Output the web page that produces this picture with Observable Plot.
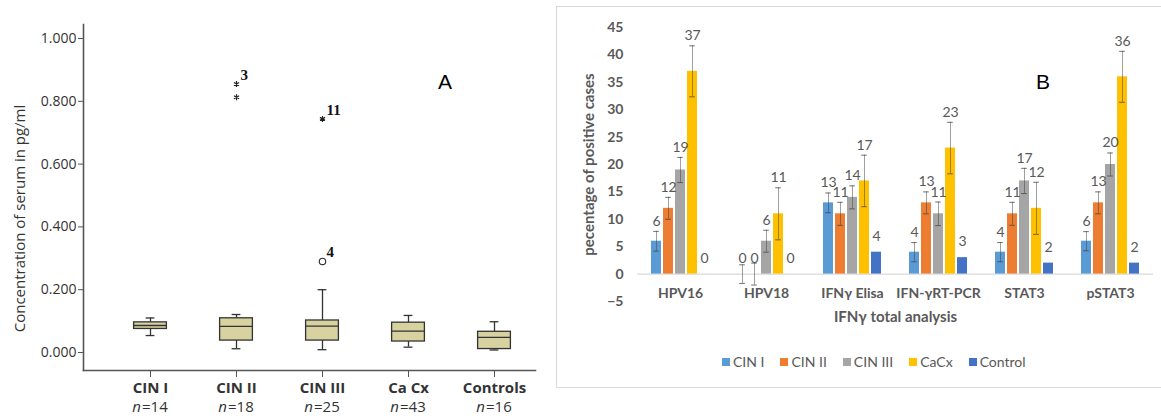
<!DOCTYPE html>
<html><head><meta charset="utf-8">
<script src="https://cdn.jsdelivr.net/npm/d3@7"></script>
<script src="https://cdn.jsdelivr.net/npm/@observablehq/plot@0.6"></script>
<style>
html,body{margin:0;padding:0;background:#fff;}
#page{position:relative;width:1161px;height:416px;overflow:hidden;background:#fff;}
#panelA{position:absolute;left:0;top:0;}
#letterA{position:absolute;left:438px;top:71px;font:21px/21px "Liberation Sans",Arial,sans-serif;color:#000;}
#panelB{position:absolute;left:556px;top:6px;width:640px;height:380px;border:1px solid #d9d9d9;}
#plotB{position:absolute;left:0;top:0;}
#letterB{position:absolute;left:479px;top:64px;font:21px/21px "Liberation Sans",Arial,sans-serif;color:#000;}
#legendB{position:absolute;left:165px;top:347px;display:flex;gap:16px;font:14px/16px Lato,sans-serif;color:#595959;}
#legendB .item{display:flex;align-items:center;}
#legendB .sw{width:8px;height:8px;margin-right:3px;display:inline-block;}
#plotB g[aria-label="y-axis tick label"] text,
#plotB g[aria-label="fx-axis tick label"] text{font-weight:bold;font-size:14px;}
#plotB g[aria-label="y-axis label"] text,
#plotB g[aria-label="fx-axis label"] text{font-weight:bold;font-size:15px;}
#panelA g[aria-label="x-axis tick label"] text{font-weight:bold;font-size:15px;}
</style>
</head><body>
<div id="page">
  <div id="panelA"></div>
  <div id="letterA">A</div>
  <div id="panelB">
    <div id="plotB"></div>
    <div id="letterB">B</div>
    <div id="legendB"></div>
  </div>
</div>
<script>
// ---------- Panel A data (box plot summaries, pg/ml) ----------
const groupsA = ["CIN I", "CIN II", "CIN III", "Ca Cx", "Controls"];
const nA = [14, 18, 25, 43, 16];
const whiskerLowA = [0.054, 0.012, 0.009, 0.017, 0.008];
const q1A = [0.075, 0.038, 0.038, 0.035, 0.011];
const medianA = [0.086, 0.083, 0.084, 0.068, 0.048];
const q3A = [0.096, 0.109, 0.102, 0.095, 0.066];
const whiskerHighA = [0.110, 0.121, 0.200, 0.118, 0.098];
const outlierGroupA = ["CIN II", "CIN II", "CIN III", "CIN III"];
const outlierValueA = [0.855, 0.813, 0.744, 0.290];
const outlierKindA = ["extreme", "extreme", "extreme", "outlier"];
const outlierCaseA = ["3", "", "11", "4"];
const yTicksA = [0, 0.2, 0.4, 0.6, 0.8, 1.0];

// ---------- Panel B data (percentage of positive cases) ----------
const categoriesB = ["HPV16", "HPV18", "IFNγ Elisa", "IFN-γRT-PCR", "STAT3", "pSTAT3"];
const seriesB = ["CIN I", "CIN II", "CIN III", "CaCx", "Control"];
const valuesCIN1 = [6, 0, 13, 4, 4, 6];
const valuesCIN2 = [12, 0, 11, 13, 11, 13];
const valuesCIN3 = [19, 6, 14, 11, 17, 20];
const valuesCaCx = [37, 11, 17, 23, 12, 36];
const valuesControl = [0, 0, 4, 3, 2, 2];
const errCIN1 = [1.8, 1.7, 1.8, 1.75, 1.75, 1.75];
const errCIN2 = [2.0, 2.0, 2.1, 2.0, 2.1, 2.0];
const errCIN3 = [2.3, 2.0, 2.1, 2.15, 2.3, 2.1];
const errCaCx = [4.65, 4.75, 4.7, 4.7, 4.75, 4.65];
const errControl = [0, 0, 0, 0, 0, 0];
const yTicksB = [-5, 0, 5, 10, 15, 20, 25, 30, 35, 40, 45];
const colorsB = ["#5B9BD5", "#ED7D31", "#A5A5A5", "#FFC000", "#4472C4"];

// ---------- Panel A ----------
const boxRows = groupsA.map((g, i) => ({group: g, n: nA[i], lo: whiskerLowA[i], q1: q1A[i], med: medianA[i], q3: q3A[i], hi: whiskerHighA[i]}));
const outRows = outlierGroupA.map((g, i) => ({group: g, value: outlierValueA[i], kind: outlierKindA[i], caseId: outlierCaseA[i]}));
const ink = "#333";
const boxInset = 26.6, capInset = 38.6;

const plotA = Plot.plot({
  width: 545, height: 416,
  marginLeft: 83, marginRight: 10, marginTop: 24, marginBottom: 46,
  style: {fontFamily: "'Open Sans', sans-serif", fontSize: "14px", color: ink, background: "transparent"},
  x: {domain: groupsA, range: [106, 537], padding: 0, axis: null},
  y: {domain: [-0.0573, 1.0446], axis: null},
  marks: [
    Plot.frame({anchor: "left", stroke: "#555", strokeWidth: 1.6}),
    Plot.frame({anchor: "bottom", stroke: "#555", strokeWidth: 1.6}),
    Plot.axisY({ticks: yTicksA, tickFormat: d => d.toFixed(3), tickSize: 5, tickPadding: 2, label: null, stroke: "#555"}),
    Plot.axisX({tickSize: 7, tickPadding: 5, label: null, stroke: "#555"}),
    Plot.ruleX(boxRows, {x: "group", y1: "lo", y2: "q1", stroke: ink, strokeWidth: 1.3}),
    Plot.ruleX(boxRows, {x: "group", y1: "q3", y2: "hi", stroke: ink, strokeWidth: 1.3}),
    Plot.tickY(boxRows, {x: "group", y: "lo", insetLeft: capInset, insetRight: capInset, stroke: ink, strokeWidth: 1.3}),
    Plot.tickY(boxRows, {x: "group", y: "hi", insetLeft: capInset, insetRight: capInset, stroke: ink, strokeWidth: 1.3}),
    Plot.barY(boxRows, {x: "group", y1: "q1", y2: "q3", fill: "#d7d2a0", stroke: ink, strokeWidth: 1.3, insetLeft: boxInset, insetRight: boxInset}),
    Plot.tickY(boxRows, {x: "group", y: "med", insetLeft: boxInset, insetRight: boxInset, stroke: ink, strokeWidth: 1.3}),
    Plot.dot(outRows.filter(d => d.kind === "extreme"), {x: "group", y: "value", symbol: "asterisk", r: 2.8, stroke: "#222", strokeWidth: 1.2}),
    Plot.dot(outRows.filter(d => d.kind === "outlier"), {x: "group", y: "value", r: 3.2, stroke: ink, fill: "white", strokeWidth: 1.2}),
    Plot.text(outRows.filter(d => d.caseId), {x: "group", y: "value", text: "caseId", textAnchor: "start", dx: 4, dy: -9,
      fontFamily: "'Liberation Serif', serif", fontWeight: "bold", fontSize: 15, fill: "#111"}),
    Plot.text(boxRows, {x: "group", frameAnchor: "bottom", text: () => "n", dx: -9.5, dy: 41, textAnchor: "end", fontStyle: "italic", fontSize: 15}),
    Plot.text(boxRows, {x: "group", frameAnchor: "bottom", text: d => "=" + d.n, dx: -8.5, dy: 41, textAnchor: "start", fontSize: 15}),
    Plot.text(["Concentration of serum in pg/ml"], {frameAnchor: "left", textAnchor: "middle", rotate: -90, dx: -63, dy: 21, fontSize: 15})
  ]
});
document.getElementById("panelA").appendChild(plotA);

// ---------- Panel B ----------
const valuesB = [valuesCIN1, valuesCIN2, valuesCIN3, valuesCaCx, valuesControl];
const errorsB = [errCIN1, errCIN2, errCIN3, errCaCx, errControl];
const rowsB = [];
seriesB.forEach((s, si) => categoriesB.forEach((c, ci) =>
  rowsB.push({category: c, series: s, value: valuesB[si][ci], err: errorsB[si][ci]})));
const withErr = rowsB.filter(d => d.err > 0);
const labelHigh = rowsB.filter(d => d.err > 0 && d.value > 0);
const labelLow = rowsB.filter(d => !(d.err > 0 && d.value > 0));
const grey = "#595959";

const plotB = Plot.plot({
  width: 640, height: 335,
  marginLeft: 77, marginRight: 42, marginTop: 20, marginBottom: 41,
  style: {fontFamily: "Lato, sans-serif", fontSize: "14px", color: grey, background: "transparent", overflow: "visible"},
  fx: {domain: categoriesB, padding: 0},
  x: {domain: seriesB, paddingInner: 0.2, paddingOuter: 0.94, axis: null},
  y: {domain: [-5, 45]},
  color: {domain: seriesB, range: colorsB},
  marks: [
    Plot.ruleY([0], {stroke: "#d9d9d9", strokeWidth: 1.3}),
    Plot.barY(rowsB, {fx: "category", x: "series", y: "value", fill: "series"}),
    Plot.ruleX(withErr, {fx: "category", x: "series", y1: d => d.value - d.err, y2: d => d.value + d.err, stroke: "#404040", strokeOpacity: 0.5}),
    Plot.tickY(withErr, {fx: "category", x: "series", y: d => d.value + d.err, insetLeft: 2.2, insetRight: 2.2, stroke: "#404040", strokeOpacity: 0.75}),
    Plot.tickY(withErr, {fx: "category", x: "series", y: d => d.value - d.err, insetLeft: 2.2, insetRight: 2.2, stroke: "#404040", strokeOpacity: 0.75}),
    Plot.text(labelHigh, {fx: "category", x: "series", y: d => d.value + d.err, text: d => String(d.value), dy: -10, fontSize: 14, fill: grey}),
    Plot.text(labelLow, {fx: "category", x: "series", y: "value", text: d => String(d.value), dy: -16, fontSize: 14, fill: grey}),
    Plot.axisY({ticks: yTicksB, tickSize: 0, tickPadding: 14, label: "pecentage of positive cases", labelArrow: false, labelAnchor: "center", labelOffset: 54}),
    Plot.axisFx({anchor: "bottom", tickSize: 0, tickPadding: -13, label: "IFNγ total analysis", labelArrow: false, labelAnchor: "center", labelOffset: 20})
  ]
});
document.getElementById("plotB").appendChild(plotB);

// legend built from the series and palette
const legend = document.getElementById("legendB");
seriesB.forEach((s, i) => {
  const item = document.createElement("div");
  item.className = "item";
  const sw = document.createElement("span");
  sw.className = "sw";
  sw.style.background = colorsB[i];
  const t = document.createElement("span");
  t.textContent = s;
  item.appendChild(sw); item.appendChild(t);
  legend.appendChild(item);
});
</script>
</body></html>
